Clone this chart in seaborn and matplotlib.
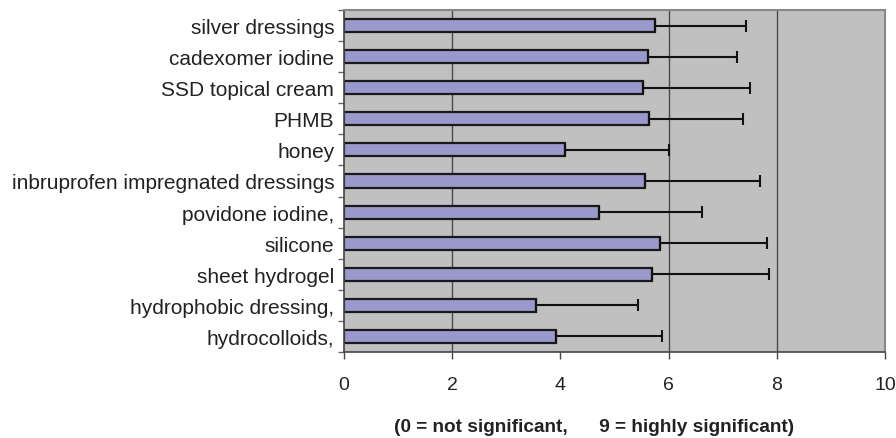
import matplotlib
matplotlib.use("Agg")
import matplotlib.pyplot as plt
import seaborn as sns
import pandas as pd
import numpy as np

categories = ["silver dressings", "cadexomer iodine", "SSD topical cream", "PHMB",
              "honey", "inbruprofen impregnated dressings", "povidone iodine,",
              "silicone", "sheet hydrogel", "hydrophobic dressing,", "hydrocolloids,"]
means = [5.74, 5.61, 5.52, 5.64, 4.09, 5.57, 4.71, 5.85, 5.69, 3.54, 3.91]
errors = [1.69, 1.66, 1.99, 1.73, 1.92, 2.12, 1.90, 1.97, 2.17, 1.89, 1.96]
xticks = [0, 2, 4, 6, 8, 10]
gridlines = [2, 6, 8]
xlabel = "(0 = not significant,      9 = highly significant)"

sns.set_theme(style="white")
plt.rcParams['font.family'] = ['Liberation Sans', 'DejaVu Sans']

df = pd.DataFrame({"category": categories, "mean": means})

fig = plt.figure(figsize=(8.96, 4.39), dpi=100)
ax = fig.add_axes([344/896, 1-353/439, (885-344)/896, (353-11)/439])
ax.set_facecolor("#c0c0c0")

for g in gridlines:
    ax.axvline(g, color="#4a4a4a", lw=1.0, zorder=0.5)

sns.barplot(data=df, x="mean", y="category", order=categories, orient="h",
            color="#9999cc", saturation=1, width=0.42, edgecolor="#1a1a1a",
            linewidth=1.6, errorbar=None, ax=ax, zorder=2)

ypos = np.arange(len(categories))
ax.errorbar(means, ypos, xerr=[np.zeros(len(errors)), errors], fmt="none",
            ecolor="#111111", elinewidth=1.5, capsize=4, capthick=1.5, zorder=3)

ax.set_xlim(0, 10)
ax.set_ylim(len(categories) - 0.5, -0.5)
ax.set_xticks(xticks)
ax.set_xticklabels([str(t) for t in xticks], fontsize=14, color="#222222")
ax.set_yticks(ypos)
ax.set_yticklabels(categories, fontsize=15, color="#222222")
ax.set_yticks(np.arange(-0.5, len(categories), 1.0), minor=True)
ax.tick_params(axis="y", which="major", length=0, pad=7)
ax.tick_params(axis="y", which="minor", left=True, length=4, width=1, color="#666666", direction="out")
ax.tick_params(axis="x", which="major", bottom=True, length=5, width=1, color="#444444", direction="out", pad=12)
ax.set_ylabel("")
ax.set_xlabel(xlabel, fontsize=13.7, fontweight="bold", color="#222222")
ax.xaxis.set_label_coords(0.462, -0.193)

for side in ["left", "bottom"]:
    ax.spines[side].set_color("#444444")
    ax.spines[side].set_linewidth(1.2)
for side in ["top", "right"]:
    ax.spines[side].set_color("#888888")
    ax.spines[side].set_linewidth(1.5)

fig.savefig("out.png", dpi=100)
